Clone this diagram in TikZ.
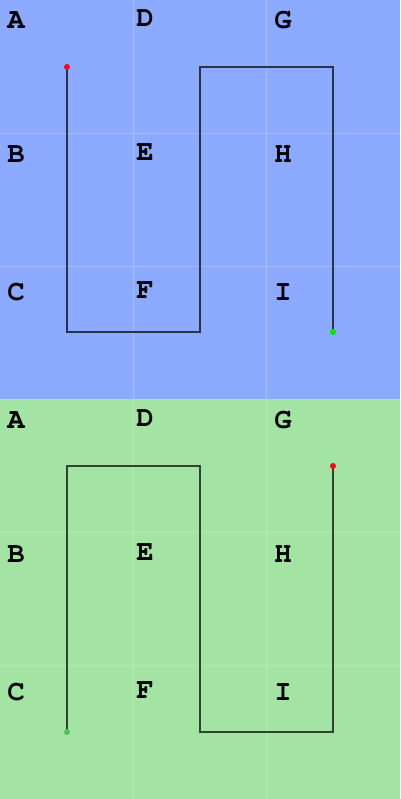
\documentclass[tikz,border=0pt]{standalone}
\usepackage[T1]{fontenc}
\definecolor{topbg}{RGB}{140,170,255}
\definecolor{botbg}{RGB}{163,227,163}
\definecolor{startdot}{RGB}{255,0,30}
\definecolor{enddot}{RGB}{0,230,0}
\definecolor{enddotb}{RGB}{80,190,100}
\begin{document}
\begin{tikzpicture}[x=0.02cm,y=-0.02cm]
        \tikzset{
            cell/.style={font=\fontfamily{pcr}\fontseries{b}\fontsize{16.5}{16.5}\selectfont,black,inner sep=0pt},
            route/.style={black,opacity=0.7,line width=0.7pt},
            gridline/.style={white,opacity=0.22,line width=0.5pt}
        }
        \useasboundingbox (0,0) rectangle (400,799);
        % backgrounds
        \fill [topbg] (0,0) rectangle (400,399);
        \fill [botbg] (0,399) rectangle (400,799);
        \foreach \x in {133,266} {
            \draw [gridline] (\x,0) -- (\x,799);
        }
        \foreach \y in {133,266,532,665} {
            \draw [gridline] (0,\y) -- (400,\y);
        }
        % labels
        \foreach \l/\x/\y in {A/16/20,B/16/154,C/16/292,D/145/18,E/145/152,F/145/290,G/283/20,H/283/154,I/283/292} {
            \node[cell] (top\l) at (\x,\y) {\l};
            \node[cell] (bot\l) at (\x,\y+400) {\l};
        }
        % upper route
        \coordinate (ta) at (67,67);
        \coordinate (tb) at (67,332);
        \coordinate (tc) at (200,332);
        \coordinate (td) at (200,67);
        \coordinate (te) at (333,67);
        \coordinate (tf) at (333,332);
        \draw [route] (ta) -- (tb) -- (tc) -- (td) -- (te) -- (tf);
        \fill [startdot] (ta) circle[radius=3];
        \fill [enddot] (tf) circle[radius=3];
        % lower route
        \coordinate (ba) at (333,466);
        \coordinate (bb) at (333,732);
        \coordinate (bc) at (200,732);
        \coordinate (bd) at (200,466);
        \coordinate (be) at (67,466);
        \coordinate (bf) at (67,732);
        \draw [route] (ba) -- (bb) -- (bc) -- (bd) -- (be) -- (bf);
        \fill [startdot] (ba) circle[radius=3];
        \fill [enddotb] (bf) circle[radius=3];
    \end{tikzpicture}
\end{document}
